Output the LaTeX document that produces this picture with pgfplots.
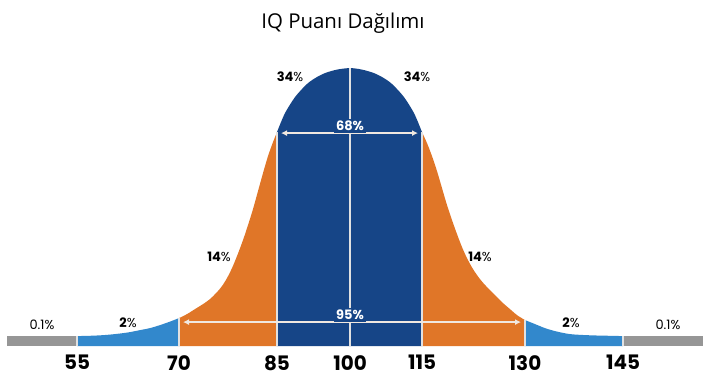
\documentclass[border=0pt]{standalone}
\usepackage{pgfplots}
\pgfplotsset{compat=1.18}
\usepackage{fontspec}
\setmainfont{Poppins}
\newfontfamily\titlefont{Open Sans}
\usetikzlibrary{arrows.meta}
\definecolor{cgray}{RGB}{150,150,150}
\definecolor{clblue}{RGB}{50,136,204}
\definecolor{corange}{RGB}{224,118,40}
\definecolor{cdblue}{RGB}{22,69,135}
\definecolor{carrow}{RGB}{240,232,224}
\definecolor{csep}{RGB}{225,225,225}
\begin{document}
\begin{tikzpicture}
\begin{axis}[
  scale only axis, width=715bp, height=346bp,
  xmin=0, xmax=715, ymin=0, ymax=346,
  clip=false,
  axis line style={draw=none},
  major tick length=0pt,
  ytick=\empty,
  xtick={77,179,277,350,422,525,623},
  xticklabels={55,70,85,100,115,130,145},
  /pgf/number format/assume math mode=true,
  xticklabel style={font=\fontsize{20}{20}\selectfont\bfseries, anchor=north, inner sep=0pt, yshift=-9bp},
]
% gray tails
\addplot[fill=cgray, draw=none] coordinates {(7,0) (7,10) (77,10) (77,0)};
\addplot[fill=cgray, draw=none] coordinates {(623,0) (623,10) (703,10) (703,0)};
% left light blue
\addplot[fill=clblue, draw=none, smooth] coordinates {(77,10) (95,10.5) (110,11.5) (127,13.5) (140,16) (150,18) (160,21) (170,24.5) (179,28)} \closedcycle;
% left orange
\addplot[fill=corange, draw=none, smooth] coordinates {(179,28) (187,32) (195,37) (203,42) (210,47) (217,54) (222,60) (227,68) (232,78) (237,90) (243,106) (248,121) (253,137) (258,155) (263,173) (268,190) (273,204) (277,214)} \closedcycle;
% center dark blue
\addplot[fill=cdblue, draw=none, smooth] coordinates {(277,214) (281,224) (285,233) (290,241.5) (295,249) (301,256) (308,263) (316,268.5) (325,273) (337,276.5) (350,278) (362,276.5) (374,273) (383,268.5) (391,263) (398,256) (404,249) (409,241.5) (414,233) (418,224) (422,214)} \closedcycle;
% right orange
\addplot[fill=corange, draw=none, smooth] coordinates {(422,214) (427,203) (432,190) (437,175) (442,158) (447,141) (452,126) (457,112) (462,99) (467,88) (473,77) (480,67) (487,59) (495,51) (503,43) (510,37) (517,31) (525,26)} \closedcycle;
% right light blue
\addplot[fill=clblue, draw=none, smooth] coordinates {(525,26) (535,22) (545,18) (555,15) (570,12) (590,10.8) (610,10.3) (623,10)} \closedcycle;
% separators
\addplot[csep, line width=1.5bp] coordinates {(77,0) (77,10)};
\addplot[csep, line width=1.5bp] coordinates {(179,0) (179,28)};
\addplot[csep, line width=1.5bp] coordinates {(277,0) (277,214)};
\addplot[csep, line width=1.5bp] coordinates {(422,0) (422,214)};
\addplot[csep, line width=1.5bp] coordinates {(525,0) (525,26)};
\addplot[csep, line width=1.5bp] coordinates {(623,0) (623,10)};
\addplot[csep, line width=1.5bp] coordinates {(350,0) (350,278)};
% arrows
\addplot[carrow, line width=1.5bp, {Latex[length=6bp,width=6bp]}-{Latex[length=6bp,width=6bp]}] coordinates {(281,213) (418,213)};
\addplot[carrow, line width=1.5bp, {Latex[length=6bp,width=6bp]}-{Latex[length=6bp,width=6bp]}] coordinates {(183,24) (521,24)};
% labels
\node[anchor=base, font=\titlefont\fontsize{20.5}{20.5}\selectfont] at (axis cs:343,318) {IQ Puanı Dağılımı};
\node[fill=cdblue, inner sep=2bp, text=white, font=\fontsize{13}{13}\selectfont\bfseries] at (axis cs:350,220) {68\%};
\node[fill=cdblue, inner sep=2bp, text=white, font=\fontsize{13}{13}\selectfont\bfseries] at (axis cs:350,31) {95\%};
\node[font=\fontsize{13}{13}\selectfont] at (axis cs:290,269) {\textbf{34}\%};
\node[font=\fontsize{13}{13}\selectfont] at (axis cs:417,269) {\textbf{34}\%};
\node[font=\fontsize{13}{13}\selectfont] at (axis cs:219,89) {\textbf{14}\%};
\node[font=\fontsize{13}{13}\selectfont] at (axis cs:480,89) {\textbf{14}\%};
\node[font=\fontsize{13}{13}\selectfont] at (axis cs:128,23) {\textbf{2}\%};
\node[font=\fontsize{13}{13}\selectfont] at (axis cs:571,23) {\textbf{2}\%};
\node[font=\fontsize{13}{13}\selectfont] at (axis cs:42,21) {0.1\%};
\node[font=\fontsize{13}{13}\selectfont] at (axis cs:668,21) {0.1\%};
\path (axis cs:0,-38) (axis cs:715,346);
\end{axis}
\end{tikzpicture}
\end{document}
